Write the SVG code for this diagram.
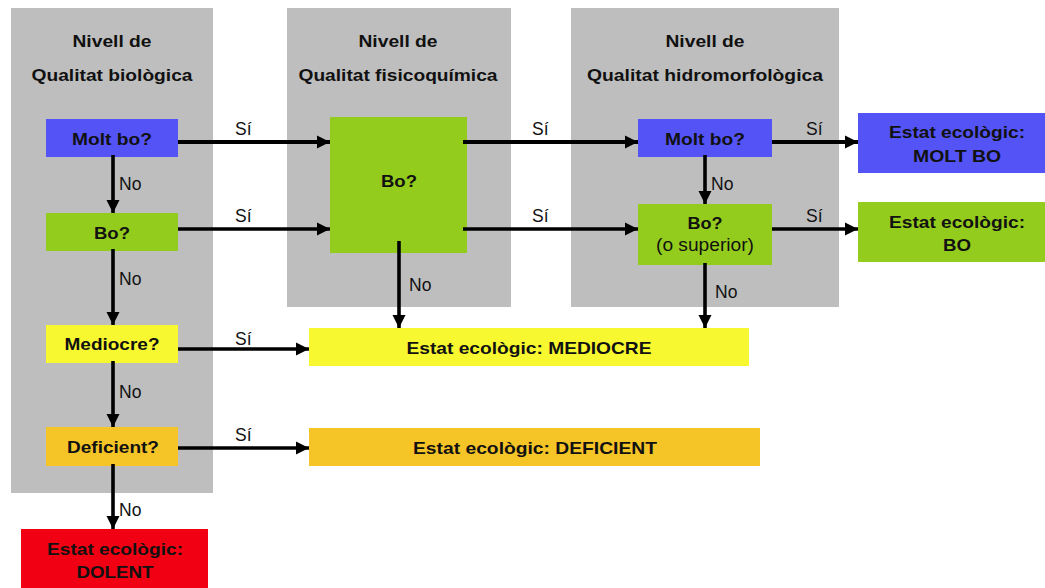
<svg xmlns="http://www.w3.org/2000/svg" width="1045" height="588" viewBox="0 0 1045 588">
<style>
.panel{fill:#bebebe}
.blue{fill:#5454f6}
.green{fill:#94cc1e}
.yellow{fill:#f8f830}
.orange{fill:#f5c528}
.red{fill:#f00012}
text{font-family:"Liberation Sans",Arial,sans-serif;fill:#111}
.b{font-size:17px;font-weight:bold;text-anchor:middle}
.l{font-size:17.5px}
.c{fill:none;stroke:#000;stroke-width:3.6;marker-end:url(#ah)}
.c4{stroke-width:4.2}
</style>
<defs>
<marker id="ah" markerUnits="userSpaceOnUse" markerWidth="14" markerHeight="14" refX="13" refY="7" orient="auto">
<path d="M0,0.5 L13,7 L0,13.5 Z" fill="#000"/>
</marker>
</defs>
<rect width="1045" height="588" fill="#fff"/>
<g id="panel-bio">
<rect class="panel" x="11" y="8" width="202" height="485"/>
<text class="b" x="112" y="47" textLength="79" lengthAdjust="spacingAndGlyphs">Nivell de</text>
<text class="b" x="112" y="81" textLength="161" lengthAdjust="spacingAndGlyphs">Qualitat biològica</text>
</g>
<g id="panel-fq">
<rect class="panel" x="287" y="8" width="224" height="299"/>
<text class="b" x="398" y="47" textLength="79" lengthAdjust="spacingAndGlyphs">Nivell de</text>
<text class="b" x="398" y="81" textLength="199" lengthAdjust="spacingAndGlyphs">Qualitat fisicoquímica</text>
</g>
<g id="panel-hm">
<rect class="panel" x="571" y="8" width="268" height="299"/>
<text class="b" x="705" y="47" textLength="79" lengthAdjust="spacingAndGlyphs">Nivell de</text>
<text class="b" x="705" y="81" textLength="236" lengthAdjust="spacingAndGlyphs">Qualitat hidromorfològica</text>
</g>
<g id="bio-moltbo">
<rect class="blue" x="46" y="119" width="132" height="38"/>
<text class="b" x="112" y="145" textLength="80" lengthAdjust="spacingAndGlyphs">Molt bo?</text>
</g>
<g id="bio-bo">
<rect class="green" x="46" y="213" width="132" height="38"/>
<text class="b" x="112" y="239" textLength="36" lengthAdjust="spacingAndGlyphs">Bo?</text>
</g>
<g id="bio-mediocre">
<rect class="yellow" x="46" y="325" width="132" height="38"/>
<text class="b" x="112" y="350" textLength="95" lengthAdjust="spacingAndGlyphs">Mediocre?</text>
</g>
<g id="bio-deficient">
<rect class="orange" x="46" y="427" width="132" height="39"/>
<text class="b" x="113" y="453" textLength="92" lengthAdjust="spacingAndGlyphs">Deficient?</text>
</g>
<g id="estat-dolent">
<rect class="red" x="21" y="529" width="187" height="60"/>
<text class="b" x="115" y="555" textLength="136" lengthAdjust="spacingAndGlyphs">Estat ecològic:</text>
<text class="b" x="115" y="578" textLength="77" lengthAdjust="spacingAndGlyphs">DOLENT</text>
</g>
<g id="fq-bo">
<rect class="green" x="330" y="117" width="137" height="136"/>
<text class="b" x="399" y="187" textLength="36" lengthAdjust="spacingAndGlyphs">Bo?</text>
</g>
<g id="hm-moltbo">
<rect class="blue" x="638" y="119" width="134" height="38"/>
<text class="b" x="705" y="145" textLength="80" lengthAdjust="spacingAndGlyphs">Molt bo?</text>
</g>
<g id="hm-bo">
<rect class="green" x="638" y="204" width="134" height="61"/>
<text class="b" x="705" y="229" textLength="35" lengthAdjust="spacingAndGlyphs">Bo?</text>
<text class="l" x="705" y="251" text-anchor="middle" textLength="98" lengthAdjust="spacingAndGlyphs">(o superior)</text>
</g>
<g id="estat-moltbo">
<rect class="blue" x="858" y="113" width="200" height="60"/>
<text class="b" x="957" y="138" textLength="136" lengthAdjust="spacingAndGlyphs">Estat ecològic:</text>
<text class="b" x="957" y="162" textLength="88" lengthAdjust="spacingAndGlyphs">MOLT BO</text>
</g>
<g id="estat-bo">
<rect class="green" x="858" y="202" width="200" height="60"/>
<text class="b" x="957" y="228" textLength="136" lengthAdjust="spacingAndGlyphs">Estat ecològic:</text>
<text class="b" x="957" y="251" textLength="28" lengthAdjust="spacingAndGlyphs">BO</text>
</g>
<g id="estat-mediocre">
<rect class="yellow" x="309" y="328" width="440" height="38"/>
<text class="b" x="529" y="354" textLength="245" lengthAdjust="spacingAndGlyphs">Estat ecològic: MEDIOCRE</text>
</g>
<g id="estat-deficient">
<rect class="orange" x="309" y="428" width="451" height="38"/>
<text class="b" x="535" y="454" textLength="244" lengthAdjust="spacingAndGlyphs">Estat ecològic: DEFICIENT</text>
</g>
<g id="connectors">
<path class="c c4" d="M178,142 H330"/>
<path class="c" d="M178,229 H330"/>
<path class="c c4" d="M463,142 H638"/>
<path class="c" d="M463,229 H638"/>
<path class="c c4" d="M772,142 H858"/>
<path class="c" d="M772,229 H858"/>
<path class="c" d="M178,349 H309"/>
<path class="c" d="M178,448 H309"/>
<path class="c" d="M113,155 V213"/>
<path class="c" d="M113,249 V325"/>
<path class="c" d="M113,361 V427"/>
<path class="c" d="M113,464 V529"/>
<path class="c" d="M705,155 V204"/>
<path class="c" d="M705,263 V328"/>
<path class="c" d="M399,241 V328"/>
</g>
<g id="labels">
<text class="l" x="235" y="135">Sí</text>
<text class="l" x="235" y="222">Sí</text>
<text class="l" x="532" y="135">Sí</text>
<text class="l" x="532" y="222">Sí</text>
<text class="l" x="806" y="135">Sí</text>
<text class="l" x="806" y="222">Sí</text>
<text class="l" x="235" y="345">Sí</text>
<text class="l" x="235" y="441">Sí</text>
<text class="l" x="119" y="190">No</text>
<text class="l" x="119" y="285">No</text>
<text class="l" x="119" y="398">No</text>
<text class="l" x="119" y="516">No</text>
<text class="l" x="409" y="291">No</text>
<text class="l" x="711" y="190">No</text>
<text class="l" x="715" y="298">No</text>
</g>
</svg>
